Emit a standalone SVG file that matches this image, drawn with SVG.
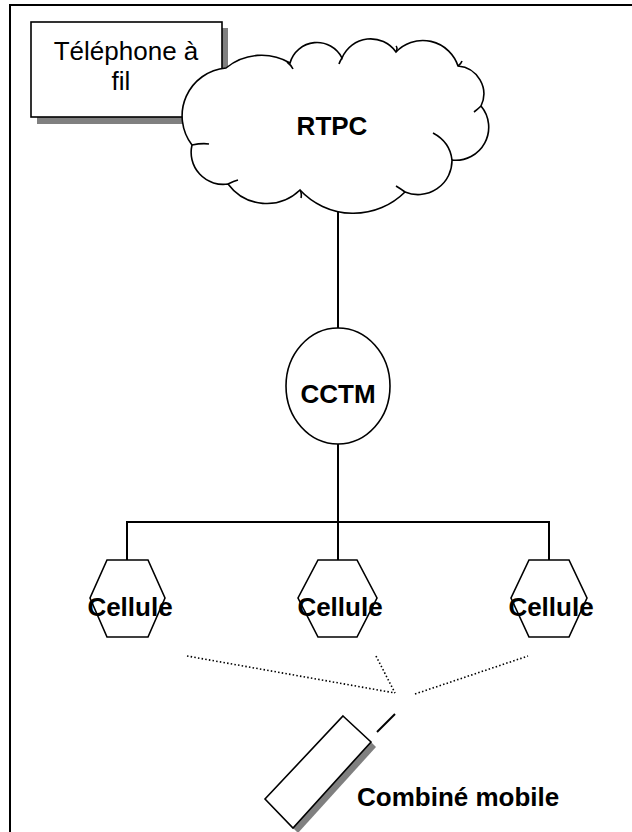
<svg xmlns="http://www.w3.org/2000/svg" width="632" height="832" viewBox="0 0 632 832">
  <style>
    .frame { stroke: #000; stroke-width: 2; fill: none; }
    .shape { stroke: #000; stroke-width: 1.6; fill: #fff; }
    .wire { stroke: #000; stroke-width: 2; fill: none; }
    .radio { stroke: #000; stroke-width: 1.6; fill: none; stroke-dasharray: 1.5 2.2; }
    .shadow { fill: #808080; stroke: none; }
    .lbl { font-family: "Liberation Sans", Arial, sans-serif; font-size: 26px; fill: #000; }
    .bold { font-weight: bold; }
    .mid { text-anchor: middle; }
  </style>
  <rect width="632" height="832" fill="#fff"/>

  <!-- page border (top and left) -->
  <path class="frame" d="M 10 832 V 5 H 632"/>

  <!-- connectors -->
  <g id="connectors">
    <line class="wire" x1="338" y1="210" x2="338" y2="328"/>
    <line class="wire" x1="338" y1="444" x2="338" y2="560"/>
    <polyline class="wire" points="127,560 127,522 549,522 549,560"/>
    <line class="radio" x1="187" y1="656" x2="395" y2="693"/>
    <line class="radio" x1="376" y1="656" x2="395" y2="693"/>
    <line class="radio" x1="415" y1="694" x2="528" y2="656"/>
  </g>

  <!-- wired phone -->
  <g id="telephone-fil">
    <rect class="shadow" x="37" y="28" width="191" height="96"/>
    <rect class="shape" x="31" y="22" width="191" height="95" stroke-width="2"/>
    <text class="lbl mid" x="126" y="60">Téléphone à</text>
    <text class="lbl mid" x="121" y="90">fil</text>
  </g>

  <!-- public switched network cloud -->
  <g id="rtpc">
    <path class="shape" d="M 226 68
      A 56 56 0 0 1 290 63
      A 28 28 0 0 1 342 58
      A 31 31 0 0 1 396 52
      A 37 37 0 0 1 458 66
      A 28 28 0 0 1 481 106
      A 33 33 0 0 1 452 160
      A 34 34 0 0 1 405 192
      A 73 73 0 0 1 300 190
      A 48 48 0 0 1 228 184
      A 32 32 0 0 1 192 145
      A 48 48 0 0 1 226 68 Z"/>
    <path fill="none" stroke="#000" stroke-width="1.6" d="M 287 62 q 4 3 6 7 M 342 58 q -2 3 -3 6 M 396 52 q 2 -4 0 -6 M 458 66 q 3 -2 4 -5 M 481 106 q -3 3 -7 6 M 452 160 q -2 -18 -19 -27 M 405 192 q -4 -3 -9 -6 M 300 190 q 2 4 1 8 M 228 184 q 6 -3 10 -4 M 192 145 q 10 -2 17 -1"/>
    <text class="lbl bold mid" x="332" y="135" font-size="30">RTPC</text>
  </g>

  <!-- mobile switching centre -->
  <g id="cctm">
    <ellipse class="shape" cx="338" cy="386" rx="52" ry="58"/>
    <text class="lbl bold mid" x="338" y="403">CCTM</text>
  </g>

  <!-- cells -->
  <g id="cellule-1">
    <polygon class="shape" points="107,560 148,560 165,598 148,637 107,637 90,598"/>
    <text class="lbl bold mid" x="130" y="616">Cellule</text>
  </g>
  <g id="cellule-2">
    <polygon class="shape" points="318,560 357,560 377,598 357,637 318,637 298,598"/>
    <text class="lbl bold mid" x="340" y="616">Cellule</text>
  </g>
  <g id="cellule-3">
    <polygon class="shape" points="529,560 569,560 587,598 569,637 529,637 511,598"/>
    <text class="lbl bold mid" x="551" y="616">Cellule</text>
  </g>

  <!-- handset -->
  <g id="combine-mobile">
    <polygon class="shadow" points="371,742 376,747 298,833 293,828"/>
    <polygon class="shape" points="343,716 371,742 293,828 265,799"/>
    <line class="wire" x1="395" y1="714" x2="377" y2="732" stroke-width="1.6"/>
    <text class="lbl bold" x="357" y="806" font-size="27">Combiné mobile</text>
  </g>
</svg>
